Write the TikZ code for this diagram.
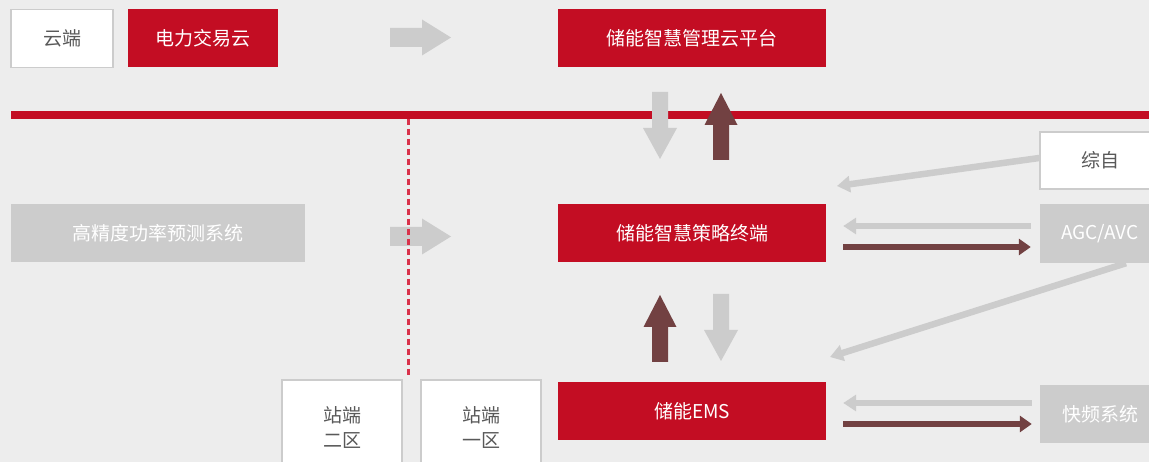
\documentclass[tikz,border=0pt]{standalone}
\usepackage{fontspec}
\setmainfont{Noto Sans CJK SC}
\usetikzlibrary{arrows.meta,calc}
\definecolor{bg}{HTML}{EDEDED}
\definecolor{cred}{HTML}{C30D23}
\definecolor{cbrown}{HTML}{724142}
\definecolor{cgray}{HTML}{CCCCCC}
\definecolor{ctext}{HTML}{595959}
\definecolor{cdash}{HTML}{D9324B}
\begin{document}
\begin{tikzpicture}[x=1pt,y=-1pt,
  box/.style={minimum height=58pt, inner sep=0pt, font=\fontsize{19}{25}\selectfont, align=center},
  redbox/.style={box, fill=cred, text=white, minimum width=268pt},
  whitebox/.style={box, fill=white, draw=cgray, line width=1.5pt, text=ctext},
  graybox/.style={box, fill=cgray, text=white},
  garrow/.style={draw=cgray, line width=6.5pt, -{Triangle[length=13pt,width=16pt]}},
  barrow/.style={draw=cbrown, line width=6.5pt, -{Triangle[length=12pt,width=16pt]}},
  gblock/.style={fill=cgray},
  bblock/.style={fill=cbrown},
  upblock/.pic={\path[pic actions] (-8,67) -- (-8,32) -- (-16.5,32) -- (0,0) -- (16.5,32) -- (8,32) -- (8,67) -- cycle;},
  downblock/.pic={\path[pic actions] (-8,-67) -- (-8,-31) -- (-17,-31) -- (0,0) -- (17,-31) -- (8,-31) -- (8,-67) -- cycle;},
  rightblock/.pic={\path[pic actions] (-61,-9.5) -- (-29,-9.5) -- (-29,-18) -- (0,0) -- (-29,18) -- (-29,9.5) -- (-61,9.5) -- cycle;}
]
\path[use as bounding box, fill=bg] (0,0) rectangle (1149,462);
\clip (0,0) rectangle (1149,462);

% separator line
\coordinate (lineL) at (11,115);
\coordinate (lineR) at (1149,115);
\draw[cred, line width=8pt] (lineL) -- (lineR);

% nodes
\node[whitebox, minimum width=102pt] (cloud) at (62,38.5) {云端};
\node[box, fill=cred, text=white, minimum width=150pt] (trade) at (203,38) {电力交易云};
\node[redbox] (mgmt) at (692,38) {储能智慧管理云平台};
\node[graybox, minimum width=294pt] (fcst) at (158,233.5) {高精度功率预测系统};
\node[redbox] (strat) at (692,233.5) {储能智慧策略终端};
\node[redbox] (ems) at (692,411) {储能EMS};
\node[whitebox, minimum width=120pt, minimum height=57pt] (zz) at (1100,160.5) {综自};
\node[graybox, minimum width=120pt, minimum height=59pt] (agc) at (1100,233.5) {AGC/AVC};
\node[graybox, minimum width=120pt] (kp) at (1100,414) {快频系统};
\node[whitebox, minimum width=120pt, minimum height=95pt] (zone2) at (342,427.5) {站端\\二区};
\node[whitebox, minimum width=120pt, minimum height=95pt] (zone1) at (481,427.5) {站端\\一区};

% block arrows
\pic[gblock] at (451,37.5) {rightblock};
\pic[gblock] at (451,236.5) {rightblock};
\pic[gblock] at (660,159) {downblock};
\pic[bblock] at (721,93) {upblock};
\pic[bblock] at (660,295) {upblock};
\pic[gblock] at (721,361) {downblock};

% dashed divider
\coordinate (dashT) at (408,119);
\coordinate (dashB) at (408,377);
\draw[cdash, line width=3pt, dash pattern=on 6pt off 4pt] (dashT) -- (dashB);

% thin connectors
\coordinate (zzend) at (837,186);
\coordinate (agcend) at (830,357);
\draw[garrow] ([yshift=2.5pt]zz.west) -- (zzend);
\draw[garrow] ([shift={(-9,-7.5)}]agc.west) -- ([shift={(17,-7.5)}]strat.east);
\draw[barrow] ([shift={(17,13.5)}]strat.east) -- ([shift={(-9,13.5)}]agc.west);
\draw[garrow] ([xshift=26pt]agc.south) -- (agcend);
\draw[garrow] ([shift={(-8,-11)}]kp.west) -- ([shift={(17,-8)}]ems.east);
\draw[barrow] ([shift={(17,13)}]ems.east) -- ([shift={(-8,10)}]kp.west);
\end{tikzpicture}
\end{document}
